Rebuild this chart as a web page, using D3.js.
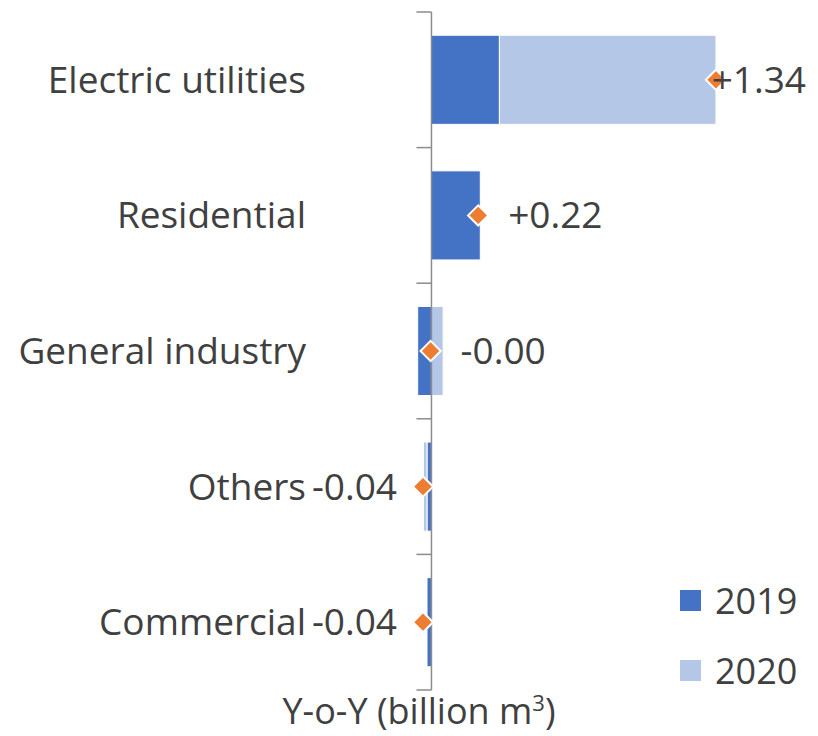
<!DOCTYPE html>
<html>
<head>
<meta charset="utf-8">
<script src="https://cdn.jsdelivr.net/npm/d3@7"></script>
<style>
  body { margin: 0; background: #fff; }
  text { font-family: "Open Sans", "Noto Sans", sans-serif; fill: #404040; }
</style>
</head>
<body>
<div id="chart"></div>
<script>
const categories = ["Electric utilities", "Residential", "General industry", "Others", "Commercial"];
const series = ["2019", "2020"];
const values2019 = [0.32, 0.23, -0.065, -0.021, -0.021];
const values2020 = [1.02, 0, 0.055, -0.017, 0];
const totals = [1.34, 0.22, -0.004, -0.04, -0.04];
const colors = ["#4472C4", "#B4C7E7"];

const width = 818;
const height = 736;

const fmt = d3.formatLocale({
  decimal: ".", thousands: ",", grouping: [3], currency: ["", ""], minus: "-"
}).format("+.2f");

const svg = d3.select("#chart")
  .append("svg")
  .attr("width", width)
  .attr("height", height);

const y = d3.scaleBand()
  .domain(categories)
  .range([12, 690])
  .paddingInner(0.343)
  .paddingOuter(0.343 / 2);

const x = d3.scaleLinear()
  .domain([-0.2, 1.4])
  .range([389.0, 728.7]);

// stack positives and negatives separately like Excel does
const rows = categories.map((c, i) => ({ cat: c, v: [values2019[i], values2020[i]], total: totals[i] }));
const segs = [];
rows.forEach(r => {
  let pos = 0, neg = 0;
  r.v.forEach((v, k) => {
    let x0, x1;
    if (v >= 0) { x0 = pos; x1 = pos + v; pos = x1; }
    else { x0 = neg + v; x1 = neg; neg = x0; }
    segs.push({ cat: r.cat, k: k, x0: x0, x1: x1 });
  });
});

svg.append("g")
  .selectAll("rect")
  .data(segs.filter(d => d.x1 - d.x0 > 0))
  .join("rect")
  .attr("x", d => x(d.x0))
  .attr("y", d => y(d.cat))
  .attr("width", d => x(d.x1) - x(d.x0))
  .attr("height", y.bandwidth())
  .attr("fill", d => colors[d.k])
  .attr("stroke", "#fff")
  .attr("stroke-width", 1);

// vertical axis with ticks on band boundaries
const axisG = svg.append("g").attr("stroke", "#8c8c8c").attr("stroke-width", 1.5);
axisG.append("line")
  .attr("x1", x(0)).attr("x2", x(0))
  .attr("y1", y.range()[0]).attr("y2", y.range()[1]);
d3.range(categories.length + 1).forEach(i => {
  const yy = y.range()[0] + i * y.step();
  axisG.append("line")
    .attr("x1", x(0) - 15).attr("x2", x(0))
    .attr("y1", yy).attr("y2", yy);
});

// category labels
svg.append("g")
  .selectAll("text")
  .data(categories)
  .join("text")
  .attr("x", 306)
  .attr("y", d => y(d) + y.bandwidth() / 2)
  .attr("dy", "0.35em")
  .attr("text-anchor", "end")
  .style("font-size", "37px")
  .text(d => d);

// total markers
svg.append("g")
  .selectAll("path")
  .data(rows)
  .join("path")
  .attr("d", d3.symbol(d3.symbolDiamond2, 260))
  .attr("transform", d => `translate(${x(d.total)},${y(d.cat) + y.bandwidth() / 2})`)
  .attr("fill", "#ED7D31")
  .attr("stroke", "#fff")
  .attr("stroke-width", 2);

// total labels
svg.append("g")
  .selectAll("text")
  .data(rows)
  .join("text")
  .attr("y", d => y(d.cat) + y.bandwidth() / 2)
  .attr("dy", "0.35em")
  .style("font-size", "37px")
  .text(d => fmt(d.total))
  .each(function (d) {
    const t = d3.select(this);
    const w = this.getComputedTextLength();
    if (d.total < -0.005) {
      t.attr("text-anchor", "end").attr("x", x(d.total) - 26);
    } else {
      let xs = x(d.total) + 30;
      if (xs + w > 806) xs = 806 - w;
      t.attr("x", xs);
    }
  });

// legend
const legend = svg.append("g")
  .selectAll("g")
  .data(series)
  .join("g")
  .attr("transform", (d, i) => `translate(680,${590 + i * 70})`);
legend.append("rect")
  .attr("width", 21).attr("height", 21)
  .attr("fill", (d, i) => colors[i]);
legend.append("text")
  .attr("x", 35).attr("y", 11)
  .attr("dy", "0.35em")
  .style("font-size", "36px")
  .text(d => d);

// axis title
const title = svg.append("text")
  .attr("x", 419)
  .attr("y", 724)
  .attr("text-anchor", "middle")
  .style("font-size", "36px");
title.append("tspan").text("Y-o-Y (billion m");
title.append("tspan").attr("dy", -13).style("font-size", "22px").text("3");
title.append("tspan").attr("dy", 13).text(")");
</script>
</body>
</html>
